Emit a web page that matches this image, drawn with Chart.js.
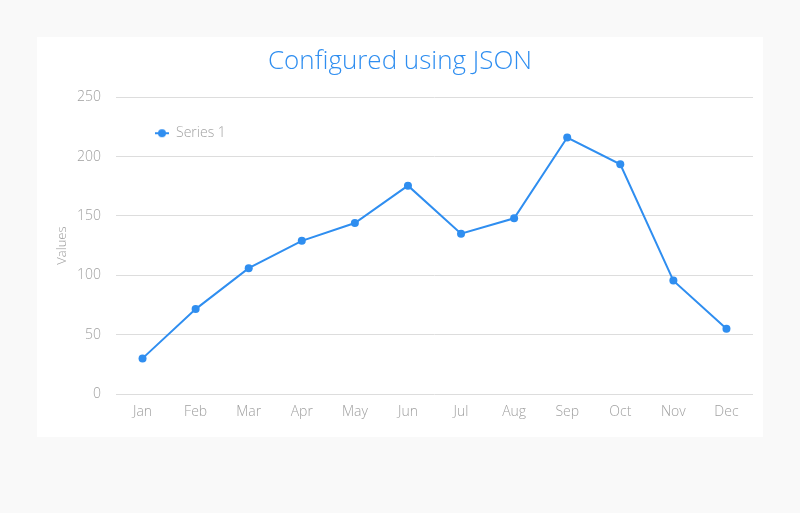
<!DOCTYPE html>
<html>
<head>
<meta charset="utf-8">
<script src="https://cdn.jsdelivr.net/npm/chart.js@4/dist/chart.umd.min.js"></script>
<style>
  html, body { margin: 0; padding: 0; background: #f9f9f9; }
  body { width: 800px; height: 513px; position: relative; overflow: hidden; }
  #panel { position: absolute; left: 37px; top: 37px; width: 726px; height: 400px; background: #ffffff; }
  canvas { display: block; }
</style>
</head>
<body>
<div id="panel"><canvas id="c" width="726" height="400"></canvas></div>
<script>
const categories = ['Jan','Feb','Mar','Apr','May','Jun','Jul','Aug','Sep','Oct','Nov','Dec'];
const seriesName = 'Series 1';
const seriesValues = [30, 71.5, 106, 129, 144, 175.5, 135, 148, 216, 193.5, 95.5, 55];
const yTicks = [0, 50, 100, 150, 200, 250];
const titleText = 'Configured using JSON';
const yTitle = 'Values';

const blue = '#2f8ef0';
const tickGray = '#a0a0a0';
const FONT = "'Open Sans', 'Noto Sans', sans-serif";

// legend symbol: short line with a dot
const sym = document.createElement('canvas');
sym.width = 14; sym.height = 10;
(function(){
  const g = sym.getContext('2d');
  g.strokeStyle = blue; g.lineWidth = 2;
  g.beginPath(); g.moveTo(0, 5); g.lineTo(14, 5); g.stroke();
  g.fillStyle = blue;
  g.beginPath(); g.arc(7, 5, 4, 0, Math.PI * 2); g.fill();
})();

const moveLegend = {
  id: 'moveLegend',
  afterLayout(chart) {
    const lg = chart.legend;
    if (!lg) return;
    const pad = lg.options.labels.padding;
    const ca = chart.chartArea;
    const w = lg.width, h = lg.height;
    lg.left = ca.left + 39 - pad;
    lg.right = lg.left + w;
    lg.top = ca.top + 29 - pad;
    lg.bottom = lg.top + h;
  }
};

new Chart(document.getElementById('c'), {
  type: 'line',
  data: {
    labels: categories,
    datasets: [{
      label: seriesName,
      data: seriesValues,
      borderColor: blue,
      backgroundColor: blue,
      borderWidth: 2,
      pointRadius: 4,
      pointHoverRadius: 4,
      pointBackgroundColor: blue,
      pointBorderWidth: 0,
      pointStyle: 'circle',
      tension: 0,
      fill: false
    }]
  },
  options: {
    responsive: false,
    animation: false,
    layout: { padding: { left: 10, right: 10, top: 9, bottom: 0 } },
    plugins: {
      title: {
        display: true,
        text: titleText,
        color: blue,
        font: { family: FONT, size: 26, weight: '300' },
        padding: { top: 0, bottom: -4 }
      },
      legend: {
        display: true,
        position: 'top',
        align: 'start',
        labels: {
          usePointStyle: true,
          pointStyle: sym,
          pointStyleWidth: 14,
          boxHeight: 10,
          color: tickGray,
          padding: 0,
          font: { family: FONT, size: 14, weight: '300', lineHeight: 1 }
        }
      },
      tooltip: { enabled: false }
    },
    scales: {
      x: {
        offset: true,
        grid: { display: false, drawTicks: false },
        border: { display: false },
        ticks: {
          color: tickGray,
          padding: 10,
          font: { family: FONT, size: 14, weight: '300' },
          maxRotation: 0
        },
        afterFit(s) { s.height = 43; }
      },
      y: {
        min: 0,
        max: 250,
        afterBuildTicks(s) { s.ticks = yTicks.map(v => ({ value: v })); },
        grid: { color: '#dddddd', lineWidth: 1, drawTicks: false },
        border: { display: false },
        ticks: {
          color: tickGray,
          padding: 15,
          font: { family: FONT, size: 14, weight: '300' }
        },
        title: {
          display: true,
          text: yTitle,
          color: tickGray,
          font: { family: FONT, size: 13, weight: '300' },
          padding: { top: 7, bottom: 0 }
        },
        afterFit(s) { s.width = 69; }
      }
    }
  },
  plugins: [moveLegend]
});
</script>
</body>
</html>
